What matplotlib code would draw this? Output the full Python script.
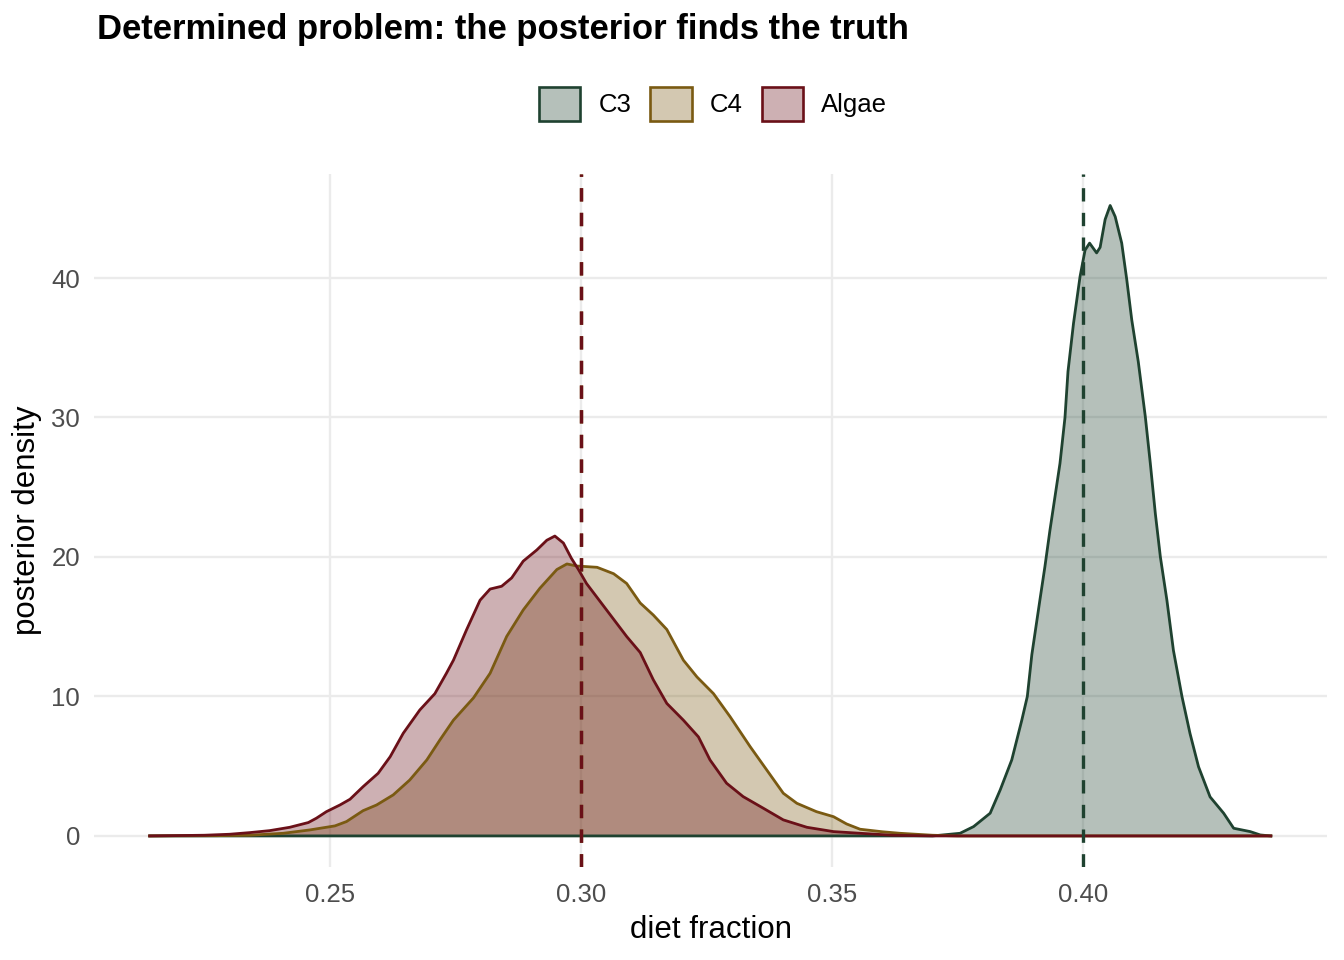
import matplotlib
matplotlib.use("Agg")
from matplotlib import pyplot as plt
from matplotlib.patches import Patch
from matplotlib.colors import to_rgba

plt.rcParams['font.family'] = ['Liberation Sans', 'DejaVu Sans']

# posterior densities (x = diet fraction, y = density)
c3_x = [0.2141, 0.3700, 0.3755, 0.3782, 0.3815, 0.3835, 0.3858, 0.3878, 0.3889,
        0.3898, 0.3914, 0.3924, 0.3934, 0.3944, 0.3954, 0.3964, 0.3970, 0.3981,
        0.3994, 0.4004, 0.4013, 0.4021, 0.4027, 0.4034, 0.4044, 0.4054, 0.4064,
        0.4077, 0.4087, 0.4097, 0.4110, 0.4124, 0.4134, 0.4144, 0.4154, 0.4167,
        0.4180, 0.4197, 0.4213, 0.4230, 0.4253, 0.4280, 0.4300, 0.4333, 0.4353,
        0.4374]
c3_y = [0.0, 0.0, 0.19, 0.67, 1.63, 3.3, 5.45, 8.3, 10.0,
        13.0, 16.9, 19.3, 21.9, 24.3, 26.7, 30.0, 33.3, 36.75,
        40.1, 42.0, 42.5, 42.1, 41.8, 42.2, 44.2, 45.2, 44.4,
        42.5, 39.9, 37.0, 34.0, 30.06, 26.7, 23.1, 20.0, 16.9,
        13.3, 10.0, 7.35, 4.96, 2.8, 1.63, 0.55, 0.31, 0.07,
        0.0]

c4_x = [0.2141, 0.2274, 0.2341, 0.2407, 0.2460, 0.2510, 0.2533, 0.2566, 0.2593,
        0.2626, 0.2659, 0.2693, 0.2719, 0.2746, 0.2786, 0.2819, 0.2852, 0.2885,
        0.2918, 0.2952, 0.2972, 0.2992, 0.3032, 0.3065, 0.3091, 0.3118, 0.3144,
        0.3171, 0.3204, 0.3231, 0.3264, 0.3297, 0.3337, 0.3370, 0.3403, 0.3430,
        0.3469, 0.3503, 0.3529, 0.3556, 0.3600, 0.3635, 0.3700, 0.3750, 0.4374]
c4_y = [0.0, 0.02, 0.05, 0.19, 0.43, 0.72, 1.03, 1.81, 2.22,
        2.94, 4.01, 5.45, 6.88, 8.3, 9.9, 11.66, 14.3, 16.2,
        17.75, 19.1, 19.5, 19.35, 19.26, 18.8, 18.1, 16.7, 15.84,
        14.8, 12.6, 11.4, 10.2, 8.55, 6.4, 4.73, 3.06, 2.34,
        1.74, 1.38, 0.86, 0.48, 0.3, 0.19, 0.05, 0.0, 0.0]

algae_x = [0.2141, 0.2250, 0.2300, 0.2341, 0.2380, 0.2420, 0.2457, 0.2473, 0.2493,
           0.2520, 0.2540, 0.2566, 0.2596, 0.2620, 0.2646, 0.2679, 0.2709, 0.2732,
           0.2746, 0.2772, 0.2799, 0.2819, 0.2842, 0.2862, 0.2885, 0.2912, 0.2932,
           0.2948, 0.2965, 0.2981, 0.2995, 0.3011, 0.3051, 0.3091, 0.3118, 0.3144,
           0.3171, 0.3204, 0.3234, 0.3257, 0.3290, 0.3323, 0.3363, 0.3403, 0.3450,
           0.3503, 0.3556, 0.3620, 0.3700, 0.4374]
algae_y = [0.0, 0.05, 0.12, 0.24, 0.38, 0.62, 0.96, 1.27, 1.74,
           2.22, 2.63, 3.53, 4.49, 5.68, 7.36, 9.03, 10.2, 11.66,
           12.6, 14.77, 16.9, 17.7, 17.9, 18.5, 19.7, 20.5, 21.2,
           21.5, 21.0, 19.9, 19.1, 18.1, 16.2, 14.3, 13.15, 11.2,
           9.5, 8.3, 7.1, 5.45, 3.78, 2.82, 1.99, 1.15, 0.62,
           0.31, 0.19, 0.05, 0.0, 0.0]

sources = ["C3", "C4", "Algae"]
truth = [0.40, 0.30, 0.30]
line_cols = ["#1F4230", "#7A5A12", "#6A1018"]
series = [(c3_x, c3_y), (c4_x, c4_y), (algae_x, algae_y)]

fig = plt.figure(figsize=(13.44, 9.6), dpi=100)
ax = fig.add_axes([0.0699, 0.0964, 0.9175, 0.7224])

for (xs, ys), col in zip(series, line_cols):
    ax.fill_between(xs, ys, 0, color=col, alpha=0.33, linewidth=0)
    ax.plot(xs, ys, color=col, lw=2.0, solid_joinstyle="round")

for t, col in zip(truth, line_cols):
    ax.axvline(t, color=col, lw=2.4, ls=(0, (4, 3.4)))

ax.set_xlim(0.2030, 0.4486)
ax.set_ylim(-2.26, 47.46)
ax.set_xticks([0.25, 0.30, 0.35, 0.40])
ax.set_xticklabels(["0.25", "0.30", "0.35", "0.40"])
ax.set_yticks([0, 10, 20, 30, 40])
ax.grid(True, color="#EBEBEB", lw=1.7)
ax.set_axisbelow(True)
for s in ax.spines.values():
    s.set_visible(False)
ax.tick_params(length=0, labelsize=18.5, labelcolor="#4D4D4D")
ax.tick_params(axis="x", pad=11)
ax.tick_params(axis="y", pad=10)
ax.set_xlabel("diet fraction", fontsize=22.5, labelpad=6)
ax.set_ylabel("posterior density", fontsize=22.5, labelpad=7)

fig.text(97 / 1344, 1 - 30 / 960, "Determined problem: the posterior finds the truth",
         fontsize=24.9, fontweight="bold", va="center", ha="left")

handles = [Patch(facecolor=to_rgba(col, 0.33), edgecolor=col, lw=1.9) for col in line_cols]
fig.legend(handles, sources, loc="center", bbox_to_anchor=(713 / 1344, 1 - 104 / 960),
           ncol=3, frameon=False, fontsize=18.5, handlelength=1.6, handleheight=1.6,
           handletextpad=0.7, columnspacing=0.75)

plt.savefig("out.png", dpi=100)
